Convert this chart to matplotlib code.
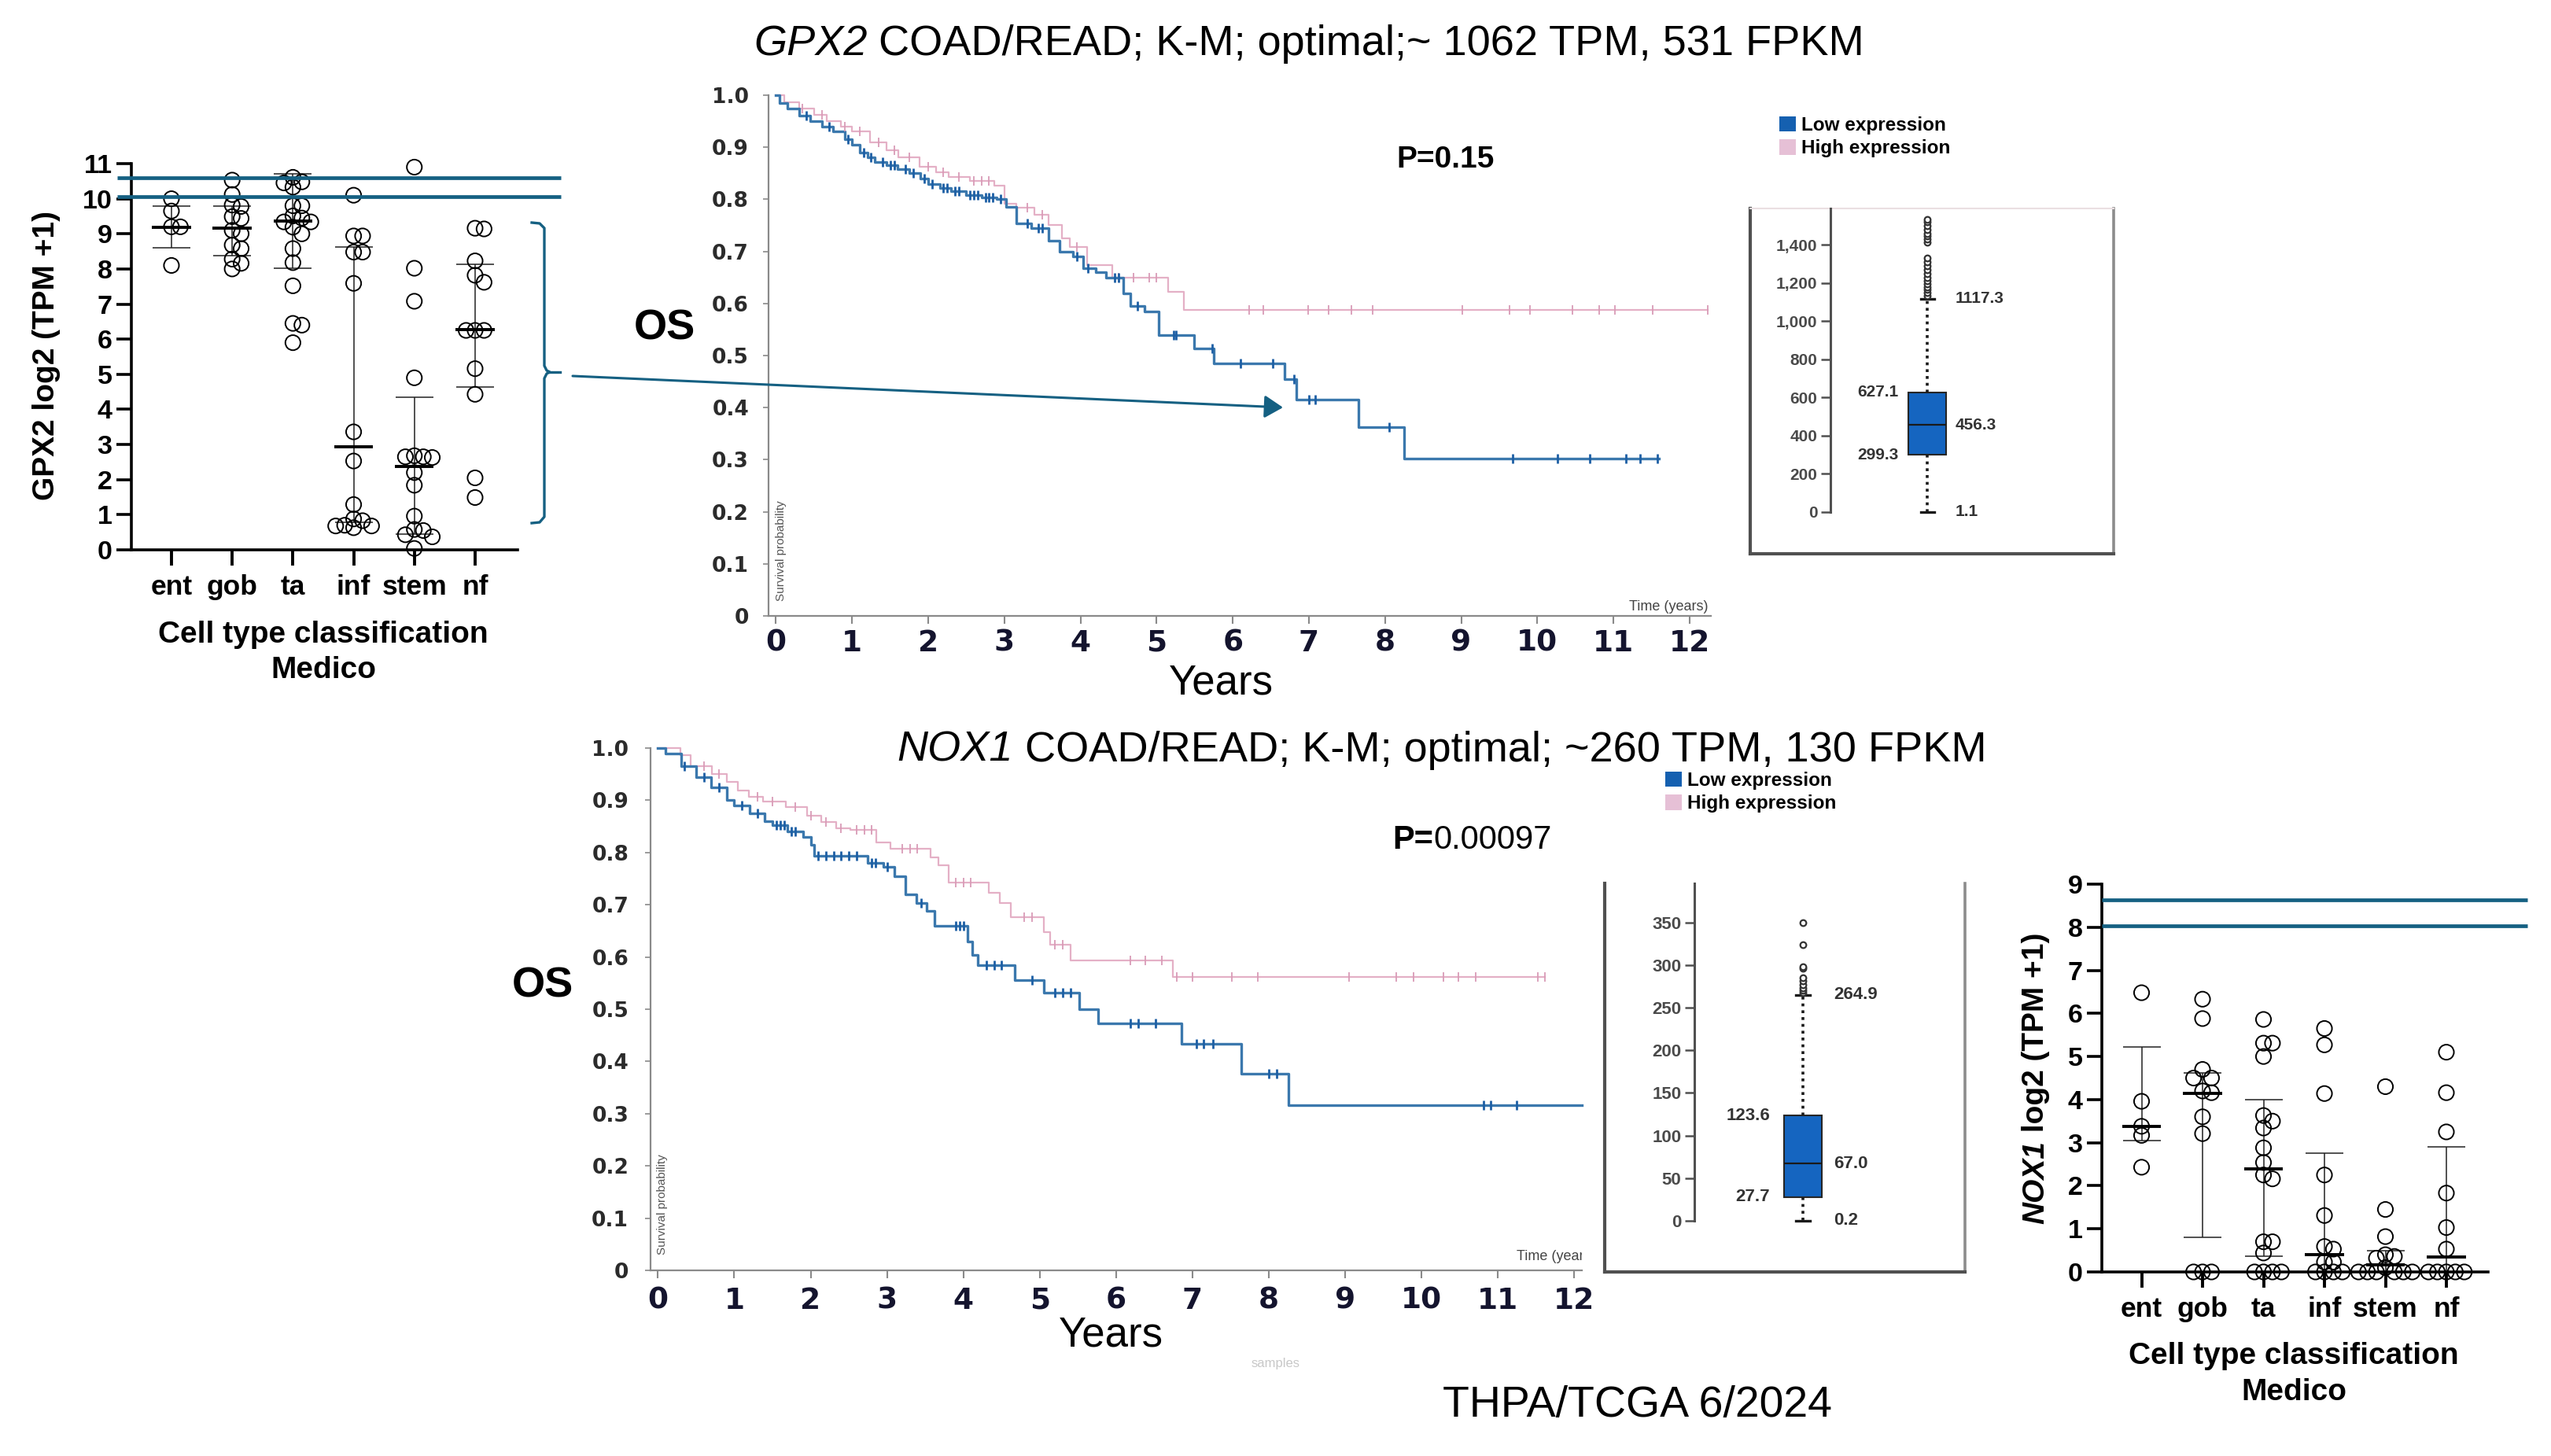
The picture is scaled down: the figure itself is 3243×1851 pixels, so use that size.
import matplotlib
matplotlib.use("Agg")
import matplotlib.pyplot as plt
import numpy as np
from matplotlib.lines import Line2D
from matplotlib.patches import FancyArrowPatch, Patch

plt.rcParams["font.family"] = ["Liberation Sans", "DejaVu Sans"]

W, H = 3243, 1851

# ── colours ────────────────────────────────────────────────────────────────
STEEL = "#156082"
KM_BLUE = "#3b78ad"
KM_BLUE_DARK = "#1d5fa5"
KM_PINK = "#e4b0c6"
BOX_BLUE = "#1565c0"
SQ_BLUE = "#1560b0"
SQ_PINK = "#e6c0d6"

# ── dot plots: GPX2 log2(TPM+1) per cell type ─────────────────────────────
CELL_TYPES = ["ent", "gob", "ta", "inf", "stem", "nf"]

gpx2_ent = [10.0, 9.65, 9.2, 9.2, 8.1]
gpx2_gob = [10.53, 10.12, 9.82, 9.78, 9.49, 9.44, 9.1, 9.0, 8.68, 8.58, 8.28, 8.16, 8.0]
gpx2_ta = [10.61, 10.48, 10.45, 10.33, 9.8, 9.8, 9.51, 9.45, 9.34, 9.34, 9.19, 9.0,
           8.58, 8.18, 7.52, 6.45, 6.4, 5.9]
gpx2_inf = [10.1, 8.94, 8.94, 8.48, 8.48, 7.59, 3.36, 2.53, 1.29, 0.88, 0.83, 0.7,
            0.68, 0.68, 0.63]
gpx2_stem = [10.9, 8.02, 7.08, 4.9, 2.68, 2.65, 2.65, 2.63, 2.2, 1.84, 0.96, 0.58,
             0.55, 0.43, 0.37, 0.04]
gpx2_nf = [9.16, 9.14, 8.23, 7.82, 7.62, 6.25, 6.25, 6.25, 5.16, 4.43, 2.05, 1.49]
gpx2_center = [9.19, 9.16, 9.37, 2.94, 2.38, 6.27]
gpx2_low = [8.6, 8.38, 8.02, 0.78, 0.45, 4.63]
gpx2_high = [9.8, 9.8, 10.7, 8.63, 4.35, 8.13]
gpx2_thresholds = [10.6, 10.05]

# ── dot plots: NOX1 log2(TPM+1) per cell type ─────────────────────────────
nox1_ent = [6.48, 3.96, 3.38, 3.17, 2.43]
nox1_gob = [6.33, 5.88, 4.7, 4.5, 4.5, 4.2, 4.16, 3.6, 3.21, 0, 0, 0]
nox1_ta = [5.86, 5.31, 5.31, 5.0, 3.63, 3.5, 3.34, 2.88, 2.54, 2.25, 2.16, 0.7, 0.7,
           0.44, 0, 0, 0, 0]
nox1_inf = [5.65, 5.27, 4.14, 2.25, 1.31, 0.59, 0.53, 0.23, 0.23, 0, 0, 0, 0]
nox1_stem = [4.3, 1.45, 0.82, 0.4, 0.36, 0.32, 0.1, 0, 0, 0, 0, 0, 0]
nox1_nf = [5.1, 4.16, 3.25, 1.83, 1.03, 0.53, 0, 0, 0, 0, 0]
nox1_center = [3.38, 4.14, 2.4, 0.4, 0.17, 0.34]
nox1_low = [3.05, 0.8, 0.36, 0.0, 0.0, 0.0]
nox1_high = [5.23, 4.61, 3.99, 2.75, 0.49, 2.9]
nox1_thresholds = [8.63, 8.04]

# ── Kaplan-Meier: GPX2 ────────────────────────────────────────────────────
gpx2_low_t = [0, 0.05, 0.15, 0.3, 0.45, 0.6, 0.75, 0.9, 1.0, 1.1, 1.2, 1.3, 1.45, 1.6,
              1.75, 1.9, 2.0, 2.15, 2.3, 2.5, 2.7, 2.9, 3.02, 3.16, 3.35, 3.58, 3.72,
              3.9, 4.04, 4.2, 4.33, 4.56, 4.65, 4.84, 5.03, 5.49, 5.75, 6.68, 6.83,
              7.65, 8.25]
gpx2_low_s = [1.0, 0.985, 0.975, 0.96, 0.95, 0.94, 0.93, 0.915, 0.905, 0.89, 0.88,
              0.872, 0.865, 0.858, 0.85, 0.84, 0.83, 0.822, 0.815, 0.808, 0.803, 0.80,
              0.785, 0.754, 0.745, 0.72, 0.70, 0.69, 0.667, 0.66, 0.65, 0.62, 0.595,
              0.585, 0.54, 0.514, 0.485, 0.455, 0.415, 0.362, 0.302]
gpx2_low_end = 11.6
gpx2_low_cens = [0.4, 0.7, 0.95, 1.15, 1.25, 1.4, 1.5, 1.55, 1.7, 1.8, 1.95, 2.05, 2.2,
                 2.25, 2.35, 2.4, 2.55, 2.6, 2.65, 2.75, 2.8, 2.85, 2.95, 3.3, 3.45,
                 3.5, 3.95, 4.1, 4.45, 4.5, 4.75, 5.22, 5.25, 5.73, 6.1, 6.53, 6.8,
                 7.0, 7.08, 8.05, 9.68, 10.27, 10.69, 11.16, 11.35, 11.58]

gpx2_high_t = [0, 0.11, 0.3, 0.5, 0.67, 0.85, 1.0, 1.24, 1.45, 1.61, 1.89, 2.1, 2.27,
               2.55, 2.87, 3.0, 3.16, 3.39, 3.58, 3.76, 3.86, 4.09, 4.42, 5.15, 5.36]
gpx2_high_s = [1.0, 0.987, 0.975, 0.962, 0.95, 0.94, 0.93, 0.91, 0.895, 0.88, 0.863,
               0.852, 0.843, 0.835, 0.826, 0.792, 0.784, 0.771, 0.75, 0.725, 0.708,
               0.674, 0.65, 0.623, 0.587]
gpx2_high_end = 12.24
gpx2_high_cens = [0.35, 0.6, 0.9, 1.1, 1.35, 1.55, 1.75, 2.0, 2.2, 2.4, 2.6, 2.7, 2.8,
                  3.3, 3.5, 3.95, 4.5, 4.7, 4.9, 5.0, 6.22, 6.4, 6.99, 7.26, 7.56,
                  7.84, 9.01, 9.64, 9.9, 10.46, 10.81, 11.02, 11.52, 12.24]

# ── Kaplan-Meier: NOX1 ────────────────────────────────────────────────────
nox1_low_t = [0, 0.1, 0.3, 0.5, 0.7, 0.9, 1.0, 1.2, 1.4, 1.5, 1.7, 1.9, 2.0, 2.05,
              2.75, 2.95, 3.1, 3.24, 3.38, 3.52, 3.62, 4.05, 4.12, 4.19, 4.67, 5.05,
              5.52, 5.76, 6.86, 7.64, 8.26]
nox1_low_s = [1.0, 0.99, 0.965, 0.945, 0.925, 0.90, 0.89, 0.875, 0.86, 0.852, 0.84,
              0.83, 0.815, 0.793, 0.78, 0.772, 0.755, 0.72, 0.703, 0.688, 0.66, 0.63,
              0.604, 0.584, 0.556, 0.532, 0.50, 0.473, 0.433, 0.377, 0.317]
nox1_low_end = 12.1
nox1_low_cens = [0.35, 0.6, 0.8, 1.1, 1.3, 1.55, 1.6, 1.65, 1.75, 1.8, 2.1, 2.2, 2.3,
                 2.4, 2.5, 2.6, 2.8, 2.85, 3.0, 3.45, 3.9, 3.95, 4.0, 4.3, 4.4, 4.5,
                 4.9, 5.2, 5.3, 5.4, 6.19, 6.29, 6.52, 7.05, 7.14, 7.27, 8.0, 8.1,
                 10.81, 10.9, 11.24]

nox1_high_t = [0, 0.29, 0.43, 0.71, 0.9, 1.05, 1.19, 1.38, 1.67, 1.95, 2.14, 2.33,
               2.52, 2.86, 3.05, 3.57, 3.67, 3.81, 4.33, 4.48, 4.62, 5.05, 5.14, 5.4,
               6.74]
nox1_high_s = [1.0, 0.986, 0.966, 0.95, 0.935, 0.918, 0.906, 0.898, 0.887, 0.871,
               0.859, 0.847, 0.843, 0.819, 0.807, 0.791, 0.775, 0.743, 0.723, 0.704,
               0.676, 0.648, 0.624, 0.594, 0.562]
nox1_high_end = 11.62
nox1_high_cens = [0.6, 0.8, 1.3, 1.5, 1.8, 2.0, 2.2, 2.4, 2.6, 2.7, 2.8, 3.2, 3.3, 3.4,
                  3.9, 4.0, 4.1, 4.8, 4.9, 5.2, 5.3, 6.19, 6.38, 6.6, 6.79, 7.0, 7.52,
                  7.86, 9.05, 9.67, 9.9, 10.29, 10.48, 10.71, 11.52, 11.62]

# ── TPM box plots ─────────────────────────────────────────────────────────
gpx2_box = dict(whislo=1.1, q1=299.3, med=456.3, q3=627.1, whishi=1117.3)
gpx2_fliers = [1135, 1150, 1165, 1180, 1195, 1210, 1230, 1250, 1270, 1290, 1310, 1330,
               1415, 1430, 1445, 1460, 1480, 1500, 1520, 1535]
gpx2_box_ticks = [0, 200, 400, 600, 800, 1000, 1200, 1400]
gpx2_box_labels = ["0", "200", "400", "600", "800", "1,000", "1,200", "1,400"]

nox1_box = dict(whislo=0.2, q1=27.7, med=67.0, q3=123.6, whishi=264.9)
nox1_fliers = [268, 270, 273, 277, 281, 285, 296, 298, 324, 350]
nox1_box_ticks = [0, 50, 100, 150, 200, 250, 300, 350]


# ── helpers ────────────────────────────────────────────────────────────────
def frac_box(l, t, r, b):
    return [l / W, 1 - b / H, (r - l) / W, (b - t) / H]


def fxy(x, y):
    return x / W, 1 - y / H


def swarm_offsets(vals, y_px, x_px, diam=19.0):
    vals = np.asarray(vals, float)
    order = np.argsort(-vals, kind="stable")
    xs = np.zeros(len(vals))
    placed = []
    for i in order:
        y = vals[i] * y_px
        x = 0.0
        for k in [0, 1, -1, 2, -2, 3, -3, 4, -4, 5, -5]:
            x = k * 0.6 * diam
            if all((x - px) ** 2 + (y - py) ** 2 >= (0.58 * diam) ** 2 for px, py in placed):
                break
        placed.append((x, y))
        xs[i] = x / x_px
    return xs


def dot_plot(ax, groups, center, low, high, thresholds, ylim, y_px, x_px, line_x):
    for i, vals in enumerate(groups):
        offs = swarm_offsets(vals, y_px, x_px)
        ax.scatter(i + offs, vals, s=190, facecolors="none", edgecolors="black",
                   linewidths=1.4, clip_on=False, zorder=3)
        ax.plot([i - 0.32, i + 0.32], [center[i]] * 2, color="black", lw=2.8,
                zorder=4, clip_on=False, solid_capstyle="butt")
        ax.errorbar(i, center[i], yerr=[[center[i] - low[i]], [high[i] - center[i]]],
                    fmt="none", ecolor="#222222", elinewidth=1.1, capsize=17,
                    capthick=1.1, zorder=2, clip_on=False)
    ax.hlines(thresholds, line_x[0], line_x[1], colors=STEEL, lw=3.4, clip_on=False,
              zorder=5)
    ax.set_ylim(*ylim)
    for side in ("top", "right"):
        ax.spines[side].set_visible(False)
    for side in ("left", "bottom"):
        ax.spines[side].set_linewidth(2.6)
    ax.set_yticks(range(ylim[1] + 1), labels=[str(v) for v in range(ylim[1] + 1)],
                  fontweight="bold", fontsize=24.5)
    ax.set_xticks(range(len(CELL_TYPES)), labels=CELL_TYPES, fontweight="bold",
                  fontsize=25.5)
    ax.tick_params(axis="y", length=13.5, width=2.6, pad=4)
    ax.tick_params(axis="x", length=14.5, width=2.8, pad=8)
    ax.set_facecolor("none")


def km_panel(ax, curves, xlim):
    for t, s, end, cens, color, lw, ccolor, cw in curves:
        t = np.asarray(t, float)
        s = np.asarray(s, float)
        ax.step(np.append(t, end), np.append(s, s[-1]), where="post", color=color,
                lw=lw, clip_on=False, zorder=3)
        cens = np.asarray(cens, float)
        s_at = s[np.searchsorted(t, cens, side="right") - 1]
        ax.plot(cens, s_at, ls="none", marker="|", ms=9, mew=cw, color=ccolor,
                clip_on=False, zorder=4)
    ax.set_xlim(*xlim)
    ax.set_ylim(0, 1)
    for side in ("top", "right"):
        ax.spines[side].set_visible(False)
    for side in ("left", "bottom"):
        ax.spines[side].set_color("#8a8a8a")
        ax.spines[side].set_linewidth(1.6)
    yt = np.round(np.arange(0, 1.01, 0.1), 1)
    ax.set_yticks(yt, labels=["0"] + [f"{v:.1f}" for v in yt[1:]],
                  fontfamily="DejaVu Sans", fontweight="bold", fontsize=19,
                  color="#2b2b2b")
    ax.set_xticks(range(13), labels=[str(v) for v in range(13)],
                  fontfamily="DejaVu Sans", fontweight="bold", fontsize=27,
                  color="#14142e")
    ax.tick_params(axis="y", length=5, width=1.2, color="#8a8a8a", pad=13)
    ax.tick_params(axis="x", length=7, width=1.5, color="#8a8a8a", pad=5)
    ax.set_facecolor("none")


def box_inset(frame, axis_box, ylim, stats, fliers, ticks, labels, xpos, width,
              lab_left, lab_right, fs, top_line):
    axf = fig.add_axes(frac_box(*frame))
    axf.set_xticks([])
    axf.set_yticks([])
    for side in ("left", "bottom"):
        axf.spines[side].set_color("#505050")
        axf.spines[side].set_linewidth(3.0)
    axf.spines["right"].set_color("#8c8c8c")
    axf.spines["right"].set_linewidth(2.6)
    if top_line:
        axf.spines["top"].set_color("#eadfe2")
        axf.spines["top"].set_linewidth(1.5)
    else:
        axf.spines["top"].set_visible(False)

    ax = fig.add_axes(frac_box(*axis_box))
    ax.set_facecolor("none")
    st = dict(stats)
    st["fliers"] = fliers
    ax.bxp([st], positions=[xpos], widths=width, patch_artist=True,
           capwidths=width * 0.36,
           boxprops=dict(facecolor=BOX_BLUE, edgecolor="#262626", linewidth=1.5),
           medianprops=dict(color="#1a1a1a", linewidth=1.6),
           whiskerprops=dict(color="#1a1a1a", linewidth=2.6, linestyle=(0, (1.0, 1.4))),
           capprops=dict(color="#1a1a1a", linewidth=2.4),
           flierprops=dict(marker="o", markersize=5.5, markerfacecolor="white",
                           markeredgecolor="#333333", markeredgewidth=1.6))
    ax.set_xlim(0, 1)
    ax.set_ylim(*ylim)
    for side in ("top", "right", "bottom"):
        ax.spines[side].set_visible(False)
    ax.spines["left"].set_bounds(0, ylim[1])
    ax.spines["left"].set_color("#505050")
    ax.spines["left"].set_linewidth(2.2)
    ax.set_xticks([])
    ax.set_yticks(ticks, labels=labels, fontweight="bold", fontsize=fs, color="#4a4a4a")
    ax.tick_params(axis="y", length=9, width=1.8, color="#505050", pad=3)
    kw = dict(fontweight="bold", fontsize=fs, color="#333333", va="center",
              transform=ax.get_yaxis_transform())
    ax.text(lab_left, st["q3"], f"{st['q3']:.1f}", ha="right", **kw)
    ax.text(lab_left, st["q1"], f"{st['q1']:.1f}", ha="right", **kw)
    ax.text(lab_right, st["med"], f"{st['med']:.1f}", ha="left", **kw)
    ax.text(lab_right, st["whishi"], f"{st['whishi']:.1f}", ha="left", **kw)
    ax.text(lab_right, st["whislo"], f"{st['whislo']:.1f}", ha="left", **kw)


def text_runs(x, y, runs, ha="center", **kw):
    arts, widths = [], []
    for s, style, weight in runs:
        t = fig.text(0, 0, s, fontstyle=style, fontweight=weight, ha="left",
                     va="baseline", **kw)
        widths.append(t.get_window_extent(renderer).width)
        arts.append(t)
    left = x - sum(widths) / 2 if ha == "center" else x
    for t, w in zip(arts, widths):
        t.set_position(fxy(left, y))
        left += w


def vertical_runs(x, yc, runs, **kw):
    arts, heights = [], []
    for s, style in runs:
        t = fig.text(0, 0, s, rotation=90, fontstyle=style, ha="center",
                     va="bottom", **kw)
        heights.append(t.get_window_extent(renderer).height)
        arts.append(t)
    y = yc + sum(heights) / 2
    for t, h in zip(arts, heights):
        t.set_position(fxy(x, y))
        y -= h


fig = plt.figure(figsize=(W / 100, H / 100), dpi=100)
fig.patch.set_facecolor("white")
renderer = fig.canvas.get_renderer()

# ── top-left dot plot (GPX2) ───────────────────────────────────────────────
ax_g = fig.add_axes(frac_box(167, 208, 658, 699))
ax_g.set_xlim(-0.66, 5.7)
dot_plot(ax_g, [gpx2_ent, gpx2_gob, gpx2_ta, gpx2_inf, gpx2_stem, gpx2_nf],
         gpx2_center, gpx2_low, gpx2_high, gpx2_thresholds, (0, 11), 44.6, 77.2,
         (-0.893, 6.41))
fig.text(*fxy(59, 452), "GPX2 log2 (TPM +1)", rotation=90, ha="center", va="center",
         fontweight="bold", fontsize=28)
fig.text(*fxy(411, 807), "Cell type classification", ha="center", va="center",
         fontweight="bold", fontsize=28)
fig.text(*fxy(411, 852), "Medico", ha="center", va="center", fontweight="bold",
         fontsize=28)

# ── bottom-right dot plot (NOX1) ───────────────────────────────────────────
ax_n = fig.add_axes(frac_box(2672, 1124, 3163, 1617))
ax_n.set_xlim(-0.652, 5.684)
dot_plot(ax_n, [nox1_ent, nox1_gob, nox1_ta, nox1_inf, nox1_stem, nox1_nf],
         nox1_center, nox1_low, nox1_high, nox1_thresholds, (0, 9), 54.7, 77.5,
         (-0.652, 6.33))
vertical_runs(2588, 1371, [("NOX1", "italic"), (" log2 (TPM +1)", "normal")],
              fontweight="bold", fontsize=28)
fig.text(*fxy(2916, 1724), "Cell type classification", ha="center", va="center",
         fontweight="bold", fontsize=28)
fig.text(*fxy(2916, 1770), "Medico", ha="center", va="center", fontweight="bold",
         fontsize=28)

# ── Kaplan-Meier panels ────────────────────────────────────────────────────
ax_k1 = fig.add_axes(frac_box(977, 121, 2175, 783))
km_panel(ax_k1, [
    (gpx2_high_t, gpx2_high_s, gpx2_high_end, gpx2_high_cens, KM_PINK, 1.6, "#d99cb7", 1.3),
    (gpx2_low_t, gpx2_low_s, gpx2_low_end, gpx2_low_cens, KM_BLUE, 2.4, KM_BLUE_DARK, 2.0),
], (-0.098, 12.28))

ax_k2 = fig.add_axes(frac_box(827, 951, 2011, 1615))
km_panel(ax_k2, [
    (nox1_high_t, nox1_high_s, nox1_high_end, nox1_high_cens, KM_PINK, 1.6, "#d99cb7", 1.3),
    (nox1_low_t, nox1_low_s, nox1_low_end, nox1_low_cens, KM_BLUE, 2.4, KM_BLUE_DARK, 2.0),
], (-0.097, 12.1))
ax_k2.tick_params(axis="y", pad=15)
ax_k2.tick_params(axis="x", pad=8)
ax_k2.text(11.76, 0.014, "Time (years)", ha="center", va="bottom", fontsize=13,
           color="#444444", clip_on=True)

fig.text(*fxy(2121, 776), "Time (years)", ha="center", va="baseline", fontsize=13,
         color="#444444")
fig.text(*fxy(993, 700), "Survival probability", rotation=90, ha="center",
         va="center", fontsize=11, color="#555555")
fig.text(*fxy(842, 1531), "Survival probability", rotation=90, ha="center",
         va="center", fontsize=11, color="#555555")
fig.text(*fxy(1622, 1733), "samples", ha="center", va="center", fontsize=12,
         color="#c8c8c8")

# titles and annotations
text_runs(1664, 70, [("GPX2", "italic", "normal"),
                     (" COAD/READ; K-M; optimal;~ 1062 TPM, 531 FPKM", "normal", "normal")],
          fontsize=39)
text_runs(1833, 968, [("NOX1", "italic", "normal"),
                      (" COAD/READ; K-M; optimal; ~260 TPM, 130 FPKM", "normal", "normal")],
          fontsize=39)
text_runs(1838, 213, [("P=0.15", "normal", "bold")], fontsize=28)
text_runs(1770, 1079, [("P=", "normal", "bold"), ("0.00097", "normal", "normal")],
          ha="left", fontsize=30)
text_runs(845, 432, [("OS", "normal", "bold")], fontsize=39)
text_runs(690, 1267, [("OS", "normal", "bold")], fontsize=39)
text_runs(1552, 882, [("Years", "normal", "normal")], fontsize=38)
text_runs(1412, 1711, [("Years", "normal", "normal")], fontsize=38)
text_runs(2081, 1801, [("THPA/TCGA 6/2024", "normal", "normal")], fontsize=40)

# ── TPM box-plot insets ────────────────────────────────────────────────────
box_inset((2225, 265, 2687, 704), (2327, 265, 2687, 690), (-160.8, 1591),
          gpx2_box, gpx2_fliers, gpx2_box_ticks, gpx2_box_labels, 0.342, 0.133,
          0.239, 0.442, 15, True)
box_inset((2040, 1123, 2498, 1617), (2154, 1123, 2498, 1600), (-44.3, 395.8),
          nox1_box, nox1_fliers, nox1_box_ticks, [str(v) for v in nox1_box_ticks],
          0.401, 0.14, 0.279, 0.515, 16, False)

legend_handles = [Patch(facecolor=SQ_BLUE, edgecolor="none", label="Low expression"),
                  Patch(facecolor=SQ_PINK, edgecolor="none", label="High expression")]
for anchor in (fxy(2262, 148), fxy(2117, 981)):
    fig.legend(handles=legend_handles, loc="upper left", bbox_to_anchor=anchor,
               frameon=False, prop=dict(weight="bold", size=17.5),
               handlelength=0.85, handleheight=0.85, handletextpad=0.3,
               labelspacing=0.25, borderpad=0, borderaxespad=0)

# ── bracket and arrow linking the GPX2 dot plot to its survival curve ───────
brace = [(676, 283), (686, 284), (692, 290), (692, 465), (695, 471), (699, 473),
         (695, 475), (692, 481), (692, 657), (686, 664), (676, 665)]
bx, by = zip(*[fxy(x, y) for x, y in brace])
fig.add_artist(Line2D(bx, by, color=STEEL, lw=2.4, transform=fig.transFigure,
                      solid_joinstyle="round"))
dx, dy = zip(fxy(699, 473), fxy(712, 473))
fig.add_artist(Line2D(dx, dy, color=STEEL, lw=2.4, transform=fig.transFigure))
fig.add_artist(FancyArrowPatch(fxy(728, 478), fxy(1631, 518), transform=fig.transFigure,
                               arrowstyle="-|>,head_length=0.65,head_width=0.4",
                               mutation_scale=22, lw=2.2, color=STEEL,
                               shrinkA=0, shrinkB=0))

fig.savefig("out.png", dpi=100, facecolor="white")
